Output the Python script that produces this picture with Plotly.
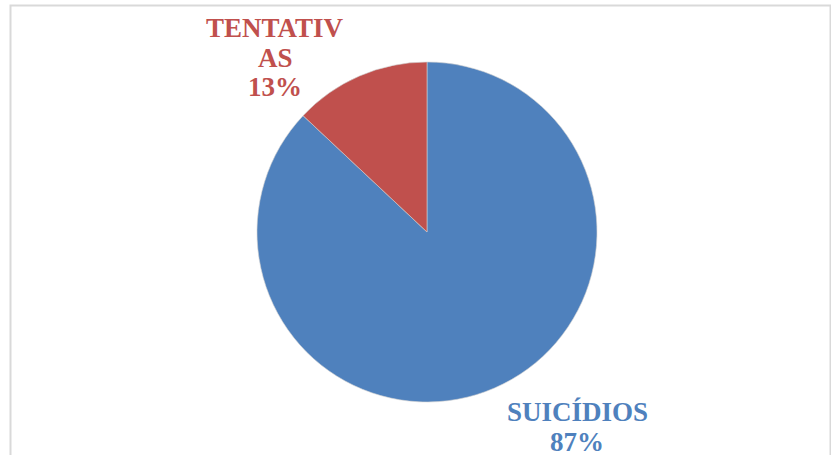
import plotly.graph_objects as go

labels = ["SUICÍDIOS", "TENTATIVAS"]
values = [87, 13]
colors = ["#4F81BD", "#C0504D"]
# how each label is wrapped in the chart
label_lines = [["SUICÍDIOS"], ["TENTATIV", "AS"]]

W, H = 831, 455
cx, cy, r = 427, 232, 170

fig = go.Figure()
fig.add_trace(go.Pie(
    labels=labels, values=values, sort=False, direction="clockwise", rotation=0,
    marker=dict(colors=colors, line=dict(color="#d0d0d0", width=0.6)),
    textinfo="none", hoverinfo="label+percent", showlegend=False,
    domain=dict(x=[(cx - r) / W, (cx + r) / W], y=[1 - (cy + r) / H, 1 - (cy - r) / H]),
))

total = sum(values)
# label anchor positions (pixels) for the first line of each label
label_pos = [(577, 412), (275, 27.5)]
line_gap = 30
font = dict(family="Liberation Serif", size=27)
for lines, v, col, (x, y) in zip(label_lines, values, colors, label_pos):
    texts = [f"<b>{t}</b>" for t in lines] + [f"<b>{v / total * 100:.0f}%</b>"]
    for i, t in enumerate(texts):
        fig.add_annotation(
            x=x / W, y=1 - (y + i * line_gap) / H, xref="paper", yref="paper",
            text=t, showarrow=False, xanchor="center", yanchor="middle",
            font=dict(font, color=col),
        )

fig.add_shape(type="rect", xref="paper", yref="paper",
              x0=10.5 / W, x1=830.5 / W, y0=-0.2, y1=1 - 5.5 / H,
              line=dict(color="#d9d9d9", width=2), fillcolor="rgba(0,0,0,0)", layer="below")

fig.update_layout(width=W, height=H, margin=dict(l=0, r=0, t=0, b=0),
                  paper_bgcolor="white", plot_bgcolor="white")
fig.write_html("out.html", config={"displayModeBar": False},
               post_script="document.body.style.margin='0';document.body.style.overflow='hidden';")
